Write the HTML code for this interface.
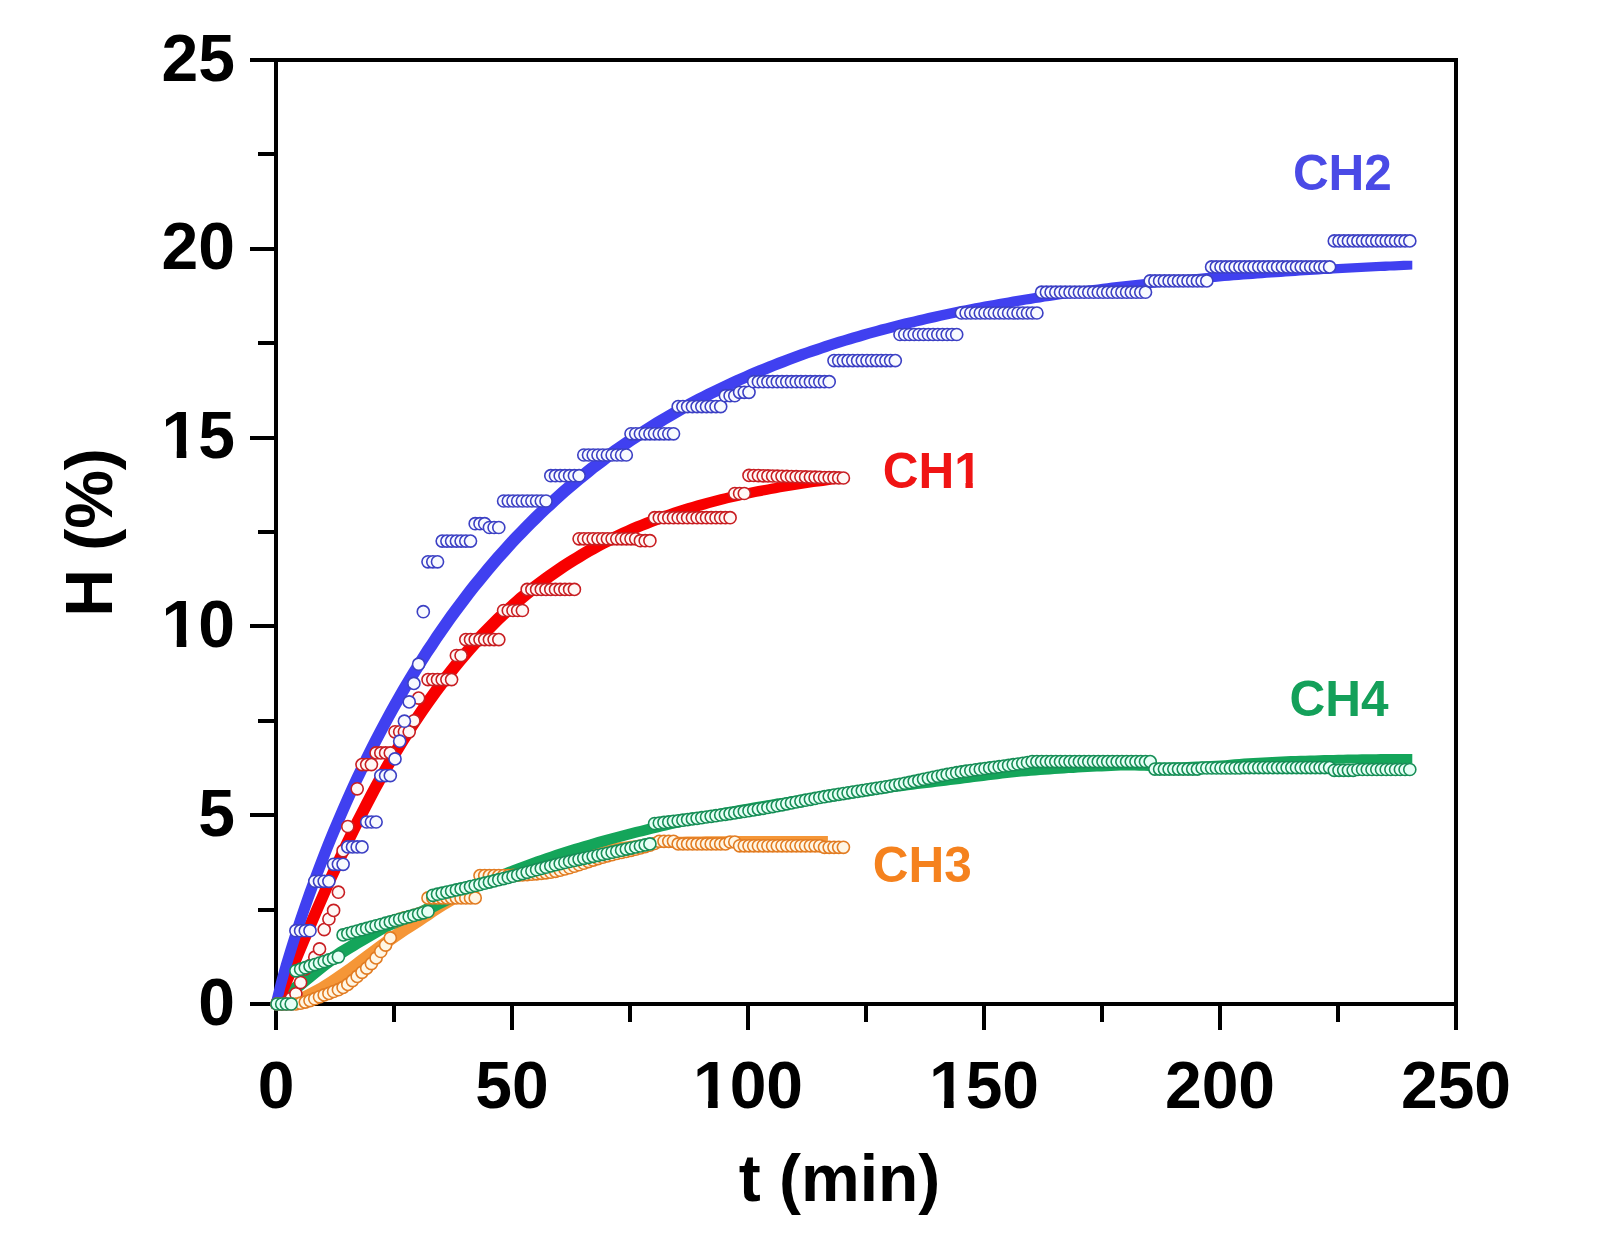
<!DOCTYPE html>
<html lang="en">
<head>
<meta charset="utf-8">
<title>H (%) vs t (min)</title>
<style>
html,body{margin:0;padding:0;background:#fff;}
body{width:1615px;height:1244px;overflow:hidden;}
svg{display:block;}
text{font-family:"Liberation Sans",sans-serif;font-weight:bold;}
.tl text{font-size:66px;fill:#000;}
.sl text{font-size:49.5px;text-anchor:middle;}
circle{fill:#fff;stroke-width:1.6;}
.mb circle{stroke:#3c40c4;}
.mr circle{stroke:#c81e22;}
.mo circle{stroke:#e27c22;fill:#fff6e4;}
.mg circle{stroke:#168e56;fill:#e6fff6;}
.mr circle{fill:#fff8f6;}
.mb circle{fill:#f8faff;}
</style>
</head>
<body>
<svg width="1615" height="1244" viewBox="0 0 1615 1244"><rect width="1615" height="1244" fill="#fff"/><g stroke="#000" stroke-width="4" fill="none" shape-rendering="crispEdges"><path d="M250 60H1458M250 1004H1458M276 58V1030M1456 58V1030"/><path d="M258 909.6H276M250 815.2H276M258 720.8H276M250 626.4H276M258 532.0H276M250 437.6H276M258 343.2H276M250 248.8H276M258 154.4H276M394.0 1004V1022M512.0 1004V1030M630.0 1004V1022M748.0 1004V1030M866.0 1004V1022M984.0 1004V1030M1102.0 1004V1022M1220.0 1004V1030M1338.0 1004V1022"/></g><path fill="#f59637" d="M271.6 1008.4L271.6 999.6L276.3 999.1L281.0 998.5L285.8 997.6L290.5 996.4L295.2 994.9L299.9 992.9L304.6 990.6L309.4 988.1L314.1 985.6L318.8 982.9L323.5 980.0L328.2 976.9L333.0 973.8L337.7 970.6L342.4 967.3L347.1 963.9L351.8 960.4L356.6 956.8L361.3 953.3L366.0 949.8L370.7 946.3L375.4 942.7L380.2 939.2L384.9 935.8L389.6 932.4L394.3 929.1L399.0 926.0L403.8 922.9L408.5 919.9L413.2 916.9L417.9 913.8L422.6 910.6L427.4 907.3L432.1 904.1L436.8 901.1L441.5 898.4L446.2 895.6L451.0 892.9L455.7 890.3L460.4 887.8L465.1 885.4L469.8 883.0L474.6 880.8L479.3 878.8L484.0 876.9L488.7 875.2L493.4 873.6L498.2 872.2L502.9 870.8L507.6 869.3L512.3 867.9L517.0 866.4L521.8 865.0L526.5 863.6L531.2 862.2L535.9 860.8L540.6 859.5L545.4 858.1L550.1 856.7L554.8 855.4L559.5 854.0L564.2 852.7L569.0 851.5L573.7 850.4L578.4 849.3L583.1 848.3L587.8 847.4L592.6 846.5L597.3 845.7L602.0 844.8L606.7 844.1L611.4 843.3L616.2 842.6L620.9 842.0L625.6 841.4L630.3 840.8L635.0 840.2L639.8 839.6L644.5 839.1L649.2 838.5L653.9 838.0L658.6 837.6L663.4 837.3L668.1 837.0L672.8 836.9L677.5 836.8L682.2 836.7L687.0 836.6L691.7 836.5L696.4 836.4L701.1 836.4L705.8 836.3L710.6 836.3L715.3 836.2L720.0 836.2L724.7 836.2L729.4 836.1L734.2 836.1L738.9 836.1L743.6 836.1L748.3 836.1L753.0 836.1L757.8 836.1L762.5 836.1L767.2 836.1L771.9 836.1L776.6 836.1L781.4 836.1L786.1 836.1L790.8 836.1L795.5 836.1L800.2 836.1L805.0 836.1L809.7 836.1L814.4 836.1L819.1 836.1L827.9 836.1L827.9 844.9L823.2 844.9L818.5 844.9L813.8 844.9L809.0 844.9L804.3 844.9L799.6 844.9L794.9 844.9L790.2 844.9L785.4 844.9L780.7 844.9L776.0 844.9L771.3 844.9L766.6 844.9L761.8 844.9L757.1 844.9L752.4 844.9L747.7 844.9L743.0 844.9L738.2 844.9L733.5 845.0L728.8 845.0L724.1 845.0L719.4 845.1L714.6 845.1L709.9 845.2L705.2 845.2L700.5 845.3L695.8 845.4L691.0 845.5L686.3 845.6L681.6 845.7L676.9 845.8L672.2 846.1L667.4 846.4L662.7 846.8L658.0 847.3L653.3 847.9L648.6 848.4L643.8 849.0L639.1 849.6L634.4 850.2L629.7 850.8L625.0 851.4L620.2 852.1L615.5 852.9L610.8 853.6L606.1 854.5L601.4 855.3L596.6 856.2L591.9 857.1L587.2 858.1L582.5 859.2L577.8 860.3L573.0 861.5L568.3 862.8L563.6 864.2L558.9 865.5L554.2 866.9L549.4 868.3L544.7 869.6L540.0 871.0L535.3 872.4L530.6 873.8L525.8 875.2L521.1 876.7L516.4 878.1L511.7 879.6L507.0 881.0L502.2 882.4L497.5 884.0L492.8 885.7L488.1 887.6L483.4 889.6L478.6 891.8L473.9 894.2L469.2 896.6L464.5 899.1L459.8 901.7L455.0 904.4L450.3 907.2L445.6 909.9L440.9 912.9L436.2 916.1L431.4 919.4L426.7 922.6L422.0 925.7L417.3 928.7L412.6 931.7L407.8 934.8L403.1 937.9L398.4 941.2L393.7 944.6L389.0 948.0L384.2 951.5L379.5 955.1L374.8 958.6L370.1 962.1L365.4 965.6L360.6 969.2L355.9 972.7L351.2 976.1L346.5 979.4L341.8 982.6L337.0 985.7L332.3 988.8L327.6 991.7L322.9 994.4L318.2 996.9L313.4 999.4L308.7 1001.7L304.0 1003.7L299.3 1005.2L294.6 1006.4L289.8 1007.3L285.1 1007.9L280.4 1008.4Z"/><path fill="#14a55a" d="M271.6 1008.4L271.6 999.6L276.3 995.8L281.0 991.9L285.8 988.1L290.5 984.3L295.2 980.4L299.9 976.4L304.6 972.6L309.4 968.7L314.1 965.0L318.8 961.3L323.5 957.6L328.2 954.0L333.0 950.7L337.7 947.6L342.4 944.8L347.1 941.9L351.8 939.0L356.6 936.2L361.3 933.4L366.0 930.6L370.7 927.9L375.4 925.2L380.2 922.6L384.9 920.5L389.6 918.6L394.3 916.8L399.0 915.2L403.8 913.7L408.5 911.9L413.2 909.7L417.9 907.3L422.6 904.9L427.4 902.6L432.1 900.2L436.8 897.9L441.5 895.7L446.2 893.4L451.0 891.2L455.7 889.0L460.4 886.9L465.1 884.8L469.8 882.7L474.6 880.7L479.3 878.6L484.0 876.7L488.7 874.7L493.4 872.7L498.2 870.8L502.9 868.9L507.6 867.1L512.3 865.3L517.0 863.5L521.8 861.7L526.5 860.0L531.2 858.2L535.9 856.6L540.6 854.9L545.4 853.3L550.1 851.7L554.8 850.1L559.5 848.6L564.2 847.1L569.0 845.6L573.7 844.1L578.4 842.7L583.1 841.3L587.8 839.9L592.6 838.5L597.3 837.1L602.0 835.8L606.7 834.5L611.4 833.2L616.2 831.9L620.9 830.7L625.6 829.5L630.3 828.3L635.0 827.1L639.8 825.9L644.5 824.7L649.2 823.6L653.9 822.5L658.6 821.4L663.4 820.3L668.1 819.2L672.8 818.2L677.5 817.1L682.2 816.1L687.0 815.1L691.7 814.1L696.4 813.2L701.1 812.2L705.8 811.3L710.6 810.3L715.3 809.4L720.0 808.5L724.7 807.6L729.4 806.7L734.2 805.9L738.9 805.0L743.6 804.2L748.3 803.4L753.0 802.6L757.8 801.7L762.5 801.0L767.2 800.2L771.9 799.4L776.6 798.6L781.4 797.9L786.1 797.2L790.8 796.4L795.5 795.7L800.2 795.0L805.0 794.3L809.7 793.6L814.4 792.9L819.1 792.3L823.8 791.6L828.6 790.9L833.3 790.3L838.0 789.6L842.7 789.0L847.4 788.4L852.2 787.7L856.9 787.1L861.6 786.5L866.3 785.8L871.0 785.2L875.8 784.6L880.5 784.0L885.2 783.3L889.9 782.7L894.6 782.1L899.4 781.5L904.1 780.9L908.8 780.3L913.5 779.7L918.2 779.1L923.0 778.6L927.7 778.0L932.4 777.4L937.1 776.9L941.8 776.3L946.6 775.7L951.3 775.1L956.0 774.5L960.7 773.9L965.4 773.3L970.2 772.7L974.9 772.1L979.6 771.5L984.3 770.9L989.0 770.4L993.8 769.8L998.5 769.3L1003.2 768.8L1007.9 768.3L1012.6 767.8L1017.4 767.4L1022.1 767.0L1026.8 766.6L1031.5 766.2L1036.2 765.9L1041.0 765.6L1045.7 765.2L1050.4 764.9L1055.1 764.6L1059.8 764.3L1064.6 764.1L1069.3 763.8L1074.0 763.5L1078.7 763.3L1083.4 763.0L1088.2 762.8L1092.9 762.6L1097.6 762.4L1102.3 762.1L1107.0 761.9L1111.8 761.7L1116.5 761.6L1121.2 761.6L1125.9 761.7L1130.6 761.9L1135.4 762.0L1140.1 762.2L1144.8 762.4L1149.5 762.5L1154.2 762.5L1159.0 762.4L1163.7 762.4L1168.4 762.4L1173.1 762.3L1177.8 762.3L1182.6 762.2L1187.3 762.0L1192.0 761.8L1196.7 761.6L1201.4 761.4L1206.2 761.2L1210.9 761.0L1215.6 760.8L1220.3 760.5L1225.0 760.2L1229.8 759.7L1234.5 759.3L1239.2 758.9L1243.9 758.6L1248.6 758.3L1253.4 758.0L1258.1 757.7L1262.8 757.5L1267.5 757.2L1272.2 757.0L1277.0 756.7L1281.7 756.5L1286.4 756.3L1291.1 756.1L1295.8 756.0L1300.6 755.8L1305.3 755.7L1310.0 755.5L1314.7 755.4L1319.4 755.3L1324.2 755.1L1328.9 755.0L1333.6 754.9L1338.3 754.8L1343.0 754.7L1347.8 754.6L1352.5 754.5L1357.2 754.4L1361.9 754.3L1366.6 754.3L1371.4 754.2L1376.1 754.2L1380.8 754.1L1385.5 754.1L1390.2 754.1L1395.0 754.1L1399.7 754.1L1403.5 754.1L1412.3 754.1L1412.3 762.9L1408.5 762.9L1403.8 762.9L1399.0 762.9L1394.3 762.9L1389.6 762.9L1384.9 763.0L1380.2 763.0L1375.4 763.1L1370.7 763.1L1366.0 763.2L1361.3 763.3L1356.6 763.4L1351.8 763.5L1347.1 763.6L1342.4 763.7L1337.7 763.8L1333.0 763.9L1328.2 764.1L1323.5 764.2L1318.8 764.3L1314.1 764.5L1309.4 764.6L1304.6 764.8L1299.9 764.9L1295.2 765.1L1290.5 765.3L1285.8 765.5L1281.0 765.8L1276.3 766.0L1271.6 766.3L1266.9 766.5L1262.2 766.8L1257.4 767.1L1252.7 767.4L1248.0 767.7L1243.3 768.1L1238.6 768.5L1233.8 769.0L1229.1 769.3L1224.4 769.6L1219.7 769.8L1215.0 770.0L1210.2 770.2L1205.5 770.4L1200.8 770.6L1196.1 770.8L1191.4 771.0L1186.6 771.1L1181.9 771.1L1177.2 771.2L1172.5 771.2L1167.8 771.2L1163.0 771.3L1158.3 771.3L1153.6 771.2L1148.9 771.0L1144.2 770.8L1139.4 770.7L1134.7 770.5L1130.0 770.4L1125.3 770.4L1120.6 770.5L1115.8 770.7L1111.1 770.9L1106.4 771.2L1101.7 771.4L1097.0 771.6L1092.2 771.8L1087.5 772.1L1082.8 772.3L1078.1 772.6L1073.4 772.9L1068.6 773.1L1063.9 773.4L1059.2 773.7L1054.5 774.0L1049.8 774.4L1045.0 774.7L1040.3 775.0L1035.6 775.4L1030.9 775.8L1026.2 776.2L1021.4 776.6L1016.7 777.1L1012.0 777.6L1007.3 778.1L1002.6 778.6L997.8 779.2L993.1 779.7L988.4 780.3L983.7 780.9L979.0 781.5L974.2 782.1L969.5 782.7L964.8 783.3L960.1 783.9L955.4 784.5L950.6 785.1L945.9 785.7L941.2 786.2L936.5 786.8L931.8 787.4L927.0 787.9L922.3 788.5L917.6 789.1L912.9 789.7L908.2 790.3L903.4 790.9L898.7 791.5L894.0 792.1L889.3 792.8L884.6 793.4L879.8 794.0L875.1 794.6L870.4 795.3L865.7 795.9L861.0 796.5L856.2 797.2L851.5 797.8L846.8 798.4L842.1 799.1L837.4 799.7L832.6 800.4L827.9 801.1L823.2 801.7L818.5 802.4L813.8 803.1L809.0 803.8L804.3 804.5L799.6 805.2L794.9 806.0L790.2 806.7L785.4 807.4L780.7 808.2L776.0 809.0L771.3 809.8L766.6 810.5L761.8 811.4L757.1 812.2L752.4 813.0L747.7 813.8L743.0 814.7L738.2 815.5L733.5 816.4L728.8 817.3L724.1 818.2L719.4 819.1L714.6 820.1L709.9 821.0L705.2 822.0L700.5 822.9L695.8 823.9L691.0 824.9L686.3 825.9L681.6 827.0L676.9 828.0L672.2 829.1L667.4 830.2L662.7 831.3L658.0 832.4L653.3 833.5L648.6 834.7L643.8 835.9L639.1 837.1L634.4 838.3L629.7 839.5L625.0 840.7L620.2 842.0L615.5 843.3L610.8 844.6L606.1 845.9L601.4 847.3L596.6 848.7L591.9 850.1L587.2 851.5L582.5 852.9L577.8 854.4L573.0 855.9L568.3 857.4L563.6 858.9L558.9 860.5L554.2 862.1L549.4 863.7L544.7 865.4L540.0 867.0L535.3 868.8L530.6 870.5L525.8 872.3L521.1 874.1L516.4 875.9L511.7 877.7L507.0 879.6L502.2 881.5L497.5 883.5L492.8 885.5L488.1 887.4L483.4 889.5L478.6 891.5L473.9 893.6L469.2 895.7L464.5 897.8L459.8 900.0L455.0 902.2L450.3 904.5L445.6 906.7L440.9 909.0L436.2 911.4L431.4 913.7L426.7 916.1L422.0 918.5L417.3 920.7L412.6 922.5L407.8 924.0L403.1 925.6L398.4 927.4L393.7 929.3L389.0 931.4L384.2 934.0L379.5 936.7L374.8 939.4L370.1 942.2L365.4 945.0L360.6 947.8L355.9 950.7L351.2 953.6L346.5 956.4L341.8 959.5L337.0 962.8L332.3 966.4L327.6 970.1L322.9 973.8L318.2 977.5L313.4 981.4L308.7 985.2L304.0 989.2L299.3 993.1L294.6 996.9L289.8 1000.7L285.1 1004.6L280.4 1008.4Z"/><path fill="#f80000" d="M271.6 1008.4L271.6 999.6L276.3 990.1L281.0 979.5L285.8 968.4L290.5 957.2L295.2 946.0L299.9 934.8L304.6 923.6L309.4 912.6L314.1 901.7L318.8 890.9L323.5 880.3L328.2 869.8L333.0 859.5L337.7 849.4L342.4 839.4L347.1 829.7L351.8 820.1L356.6 810.8L361.3 801.6L366.0 792.6L370.7 783.8L375.4 775.2L380.2 766.7L384.9 758.5L389.6 750.4L394.3 742.6L399.0 734.9L403.8 727.4L408.5 720.0L413.2 712.9L417.9 705.9L422.6 699.1L427.4 692.4L432.1 685.9L436.8 679.6L441.5 673.4L446.2 667.4L451.0 661.5L455.7 655.8L460.4 650.2L465.1 644.8L469.8 639.5L474.6 634.3L479.3 629.3L484.0 624.4L488.7 619.7L493.4 615.0L498.2 610.5L502.9 606.1L507.6 601.9L512.3 597.7L517.0 593.6L521.8 589.7L526.5 585.9L531.2 582.1L535.9 578.5L540.6 575.0L545.4 571.5L550.1 568.2L554.8 565.0L559.5 561.8L564.2 558.7L569.0 555.8L573.7 552.9L578.4 550.0L583.1 547.3L587.8 544.6L592.6 542.0L597.3 539.5L602.0 537.1L606.7 534.7L611.4 532.4L616.2 530.2L620.9 528.0L625.6 525.9L630.3 523.8L635.0 521.8L639.8 519.9L644.5 518.0L649.2 516.2L653.9 514.4L658.6 512.7L663.4 511.0L668.1 509.4L672.8 507.8L677.5 506.2L682.2 504.8L687.0 503.3L691.7 501.9L696.4 500.6L701.1 499.2L705.8 498.0L710.6 496.7L715.3 495.5L720.0 494.3L724.7 493.2L729.4 492.1L734.2 491.0L738.9 490.0L743.6 489.0L748.3 488.0L753.0 487.1L757.8 486.1L762.5 485.3L767.2 484.4L771.9 483.5L776.6 482.7L781.4 481.9L786.1 481.2L790.8 480.4L795.5 479.7L800.2 479.0L805.0 478.3L809.7 477.7L814.4 477.1L819.1 476.4L823.8 475.8L828.6 475.3L833.3 474.7L837.1 474.3L845.9 474.3L845.9 483.1L842.1 483.5L837.4 484.1L832.6 484.6L827.9 485.2L823.2 485.9L818.5 486.5L813.8 487.1L809.0 487.8L804.3 488.5L799.6 489.2L794.9 490.0L790.2 490.7L785.4 491.5L780.7 492.3L776.0 493.2L771.3 494.1L766.6 494.9L761.8 495.9L757.1 496.8L752.4 497.8L747.7 498.8L743.0 499.8L738.2 500.9L733.5 502.0L728.8 503.1L724.1 504.3L719.4 505.5L714.6 506.8L709.9 508.0L705.2 509.4L700.5 510.7L695.8 512.1L691.0 513.6L686.3 515.0L681.6 516.6L676.9 518.2L672.2 519.8L667.4 521.5L662.7 523.2L658.0 525.0L653.3 526.8L648.6 528.7L643.8 530.6L639.1 532.6L634.4 534.7L629.7 536.8L625.0 539.0L620.2 541.2L615.5 543.5L610.8 545.9L606.1 548.3L601.4 550.8L596.6 553.4L591.9 556.1L587.2 558.8L582.5 561.7L577.8 564.6L573.0 567.5L568.3 570.6L563.6 573.8L558.9 577.0L554.2 580.3L549.4 583.8L544.7 587.3L540.0 590.9L535.3 594.7L530.6 598.5L525.8 602.4L521.1 606.5L516.4 610.7L511.7 614.9L507.0 619.3L502.2 623.8L497.5 628.5L492.8 633.2L488.1 638.1L483.4 643.1L478.6 648.3L473.9 653.6L469.2 659.0L464.5 664.6L459.8 670.3L455.0 676.2L450.3 682.2L445.6 688.4L440.9 694.7L436.2 701.2L431.4 707.9L426.7 714.7L422.0 721.7L417.3 728.8L412.6 736.2L407.8 743.7L403.1 751.4L398.4 759.2L393.7 767.3L389.0 775.5L384.2 784.0L379.5 792.6L374.8 801.4L370.1 810.4L365.4 819.6L360.6 828.9L355.9 838.5L351.2 848.2L346.5 858.2L341.8 868.3L337.0 878.6L332.3 889.1L327.6 899.7L322.9 910.5L318.2 921.4L313.4 932.4L308.7 943.6L304.0 954.8L299.3 966.0L294.6 977.2L289.8 988.3L285.1 998.9L280.4 1008.4Z"/><path fill="#4040f0" d="M271.6 1008.4L271.6 999.6L276.3 980.3L281.0 963.5L285.8 947.7L290.5 932.7L295.2 918.3L299.9 904.4L304.6 891.0L309.4 878.0L314.1 865.4L318.8 853.2L323.5 841.3L328.2 829.7L333.0 818.4L337.7 807.4L342.4 796.7L347.1 786.2L351.8 776.0L356.6 766.1L361.3 756.3L366.0 746.8L370.7 737.5L375.4 728.4L380.2 719.5L384.9 710.8L389.6 702.3L394.3 694.0L399.0 685.8L403.8 677.8L408.5 670.0L413.2 662.4L417.9 654.9L422.6 647.5L427.4 640.4L432.1 633.3L436.8 626.4L441.5 619.7L446.2 613.0L451.0 606.5L455.7 600.2L460.4 593.9L465.1 587.8L469.8 581.8L474.6 575.9L479.3 570.2L484.0 564.5L488.7 559.0L493.4 553.5L498.2 548.2L502.9 543.0L507.6 537.8L512.3 532.8L517.0 527.9L521.8 523.0L526.5 518.2L531.2 513.6L535.9 509.0L540.6 504.5L545.4 500.1L550.1 495.7L554.8 491.5L559.5 487.3L564.2 483.2L569.0 479.2L573.7 475.3L578.4 471.4L583.1 467.6L587.8 463.8L592.6 460.2L597.3 456.6L602.0 453.0L606.7 449.6L611.4 446.1L616.2 442.8L620.9 439.5L625.6 436.3L630.3 433.1L635.0 430.0L639.8 426.9L644.5 423.9L649.2 421.0L653.9 418.1L658.6 415.2L663.4 412.4L668.1 409.7L672.8 407.0L677.5 404.3L682.2 401.7L687.0 399.1L691.7 396.6L696.4 394.1L701.1 391.7L705.8 389.3L710.6 387.0L715.3 384.7L720.0 382.4L724.7 380.2L729.4 378.0L734.2 375.8L738.9 373.7L743.6 371.7L748.3 369.6L753.0 367.6L757.8 365.6L762.5 363.7L767.2 361.8L771.9 359.9L776.6 358.1L781.4 356.3L786.1 354.5L790.8 352.8L795.5 351.0L800.2 349.3L805.0 347.7L809.7 346.1L814.4 344.5L819.1 342.9L823.8 341.3L828.6 339.8L833.3 338.3L838.0 336.8L842.7 335.4L847.4 334.0L852.2 332.6L856.9 331.2L861.6 329.8L866.3 328.5L871.0 327.2L875.8 325.9L880.5 324.6L885.2 323.4L889.9 322.2L894.6 321.0L899.4 319.8L904.1 318.6L908.8 317.5L913.5 316.4L918.2 315.3L923.0 314.2L927.7 313.1L932.4 312.0L937.1 311.0L941.8 310.0L946.6 309.0L951.3 308.0L956.0 307.0L960.7 306.1L965.4 305.2L970.2 304.2L974.9 303.3L979.6 302.4L984.3 301.6L989.0 300.7L993.8 299.9L998.5 299.0L1003.2 298.2L1007.9 297.4L1012.6 296.6L1017.4 295.8L1022.1 295.1L1026.8 294.3L1031.5 293.6L1036.2 292.8L1041.0 292.1L1045.7 291.4L1050.4 290.7L1055.1 290.0L1059.8 289.4L1064.6 288.7L1069.3 288.0L1074.0 287.4L1078.7 286.8L1083.4 286.2L1088.2 285.5L1092.9 284.9L1097.6 284.4L1102.3 283.8L1107.0 283.2L1111.8 282.6L1116.5 282.1L1121.2 281.5L1125.9 281.0L1130.6 280.5L1135.4 280.0L1140.1 279.4L1144.8 278.9L1149.5 278.5L1154.2 278.0L1159.0 277.5L1163.7 277.0L1168.4 276.6L1173.1 276.1L1177.8 275.7L1182.6 275.2L1187.3 274.8L1192.0 274.4L1196.7 273.9L1201.4 273.5L1206.2 273.1L1210.9 272.7L1215.6 272.3L1220.3 271.9L1225.0 271.5L1229.8 271.2L1234.5 270.8L1239.2 270.4L1243.9 270.1L1248.6 269.7L1253.4 269.4L1258.1 269.0L1262.8 268.7L1267.5 268.4L1272.2 268.1L1277.0 267.7L1281.7 267.4L1286.4 267.1L1291.1 266.8L1295.8 266.5L1300.6 266.2L1305.3 265.9L1310.0 265.6L1314.7 265.3L1319.4 265.1L1324.2 264.8L1328.9 264.5L1333.6 264.3L1338.3 264.0L1343.0 263.7L1347.8 263.5L1352.5 263.2L1357.2 263.0L1361.9 262.8L1366.6 262.5L1371.4 262.3L1376.1 262.1L1380.8 261.8L1385.5 261.6L1390.2 261.4L1395.0 261.2L1399.7 261.0L1403.5 260.8L1412.3 260.8L1412.3 269.6L1408.5 269.8L1403.8 270.0L1399.0 270.2L1394.3 270.4L1389.6 270.6L1384.9 270.9L1380.2 271.1L1375.4 271.3L1370.7 271.6L1366.0 271.8L1361.3 272.0L1356.6 272.3L1351.8 272.5L1347.1 272.8L1342.4 273.1L1337.7 273.3L1333.0 273.6L1328.2 273.9L1323.5 274.1L1318.8 274.4L1314.1 274.7L1309.4 275.0L1304.6 275.3L1299.9 275.6L1295.2 275.9L1290.5 276.2L1285.8 276.5L1281.0 276.9L1276.3 277.2L1271.6 277.5L1266.9 277.8L1262.2 278.2L1257.4 278.5L1252.7 278.9L1248.0 279.2L1243.3 279.6L1238.6 280.0L1233.8 280.3L1229.1 280.7L1224.4 281.1L1219.7 281.5L1215.0 281.9L1210.2 282.3L1205.5 282.7L1200.8 283.2L1196.1 283.6L1191.4 284.0L1186.6 284.5L1181.9 284.9L1177.2 285.4L1172.5 285.8L1167.8 286.3L1163.0 286.8L1158.3 287.3L1153.6 287.7L1148.9 288.2L1144.2 288.8L1139.4 289.3L1134.7 289.8L1130.0 290.3L1125.3 290.9L1120.6 291.4L1115.8 292.0L1111.1 292.6L1106.4 293.2L1101.7 293.7L1097.0 294.3L1092.2 295.0L1087.5 295.6L1082.8 296.2L1078.1 296.8L1073.4 297.5L1068.6 298.2L1063.9 298.8L1059.2 299.5L1054.5 300.2L1049.8 300.9L1045.0 301.6L1040.3 302.4L1035.6 303.1L1030.9 303.9L1026.2 304.6L1021.4 305.4L1016.7 306.2L1012.0 307.0L1007.3 307.8L1002.6 308.7L997.8 309.5L993.1 310.4L988.4 311.2L983.7 312.1L979.0 313.0L974.2 314.0L969.5 314.9L964.8 315.8L960.1 316.8L955.4 317.8L950.6 318.8L945.9 319.8L941.2 320.8L936.5 321.9L931.8 323.0L927.0 324.1L922.3 325.2L917.6 326.3L912.9 327.4L908.2 328.6L903.4 329.8L898.7 331.0L894.0 332.2L889.3 333.4L884.6 334.7L879.8 336.0L875.1 337.3L870.4 338.6L865.7 340.0L861.0 341.4L856.2 342.8L851.5 344.2L846.8 345.6L842.1 347.1L837.4 348.6L832.6 350.1L827.9 351.7L823.2 353.3L818.5 354.9L813.8 356.5L809.0 358.1L804.3 359.8L799.6 361.6L794.9 363.3L790.2 365.1L785.4 366.9L780.7 368.7L776.0 370.6L771.3 372.5L766.6 374.4L761.8 376.4L757.1 378.4L752.4 380.5L747.7 382.5L743.0 384.6L738.2 386.8L733.5 389.0L728.8 391.2L724.1 393.5L719.4 395.8L714.6 398.1L709.9 400.5L705.2 402.9L700.5 405.4L695.8 407.9L691.0 410.5L686.3 413.1L681.6 415.8L676.9 418.5L672.2 421.2L667.4 424.0L662.7 426.9L658.0 429.8L653.3 432.7L648.6 435.7L643.8 438.8L639.1 441.9L634.4 445.1L629.7 448.3L625.0 451.6L620.2 454.9L615.5 458.4L610.8 461.8L606.1 465.4L601.4 469.0L596.6 472.6L591.9 476.4L587.2 480.2L582.5 484.1L577.8 488.0L573.0 492.0L568.3 496.1L563.6 500.3L558.9 504.5L554.2 508.9L549.4 513.3L544.7 517.8L540.0 522.4L535.3 527.0L530.6 531.8L525.8 536.7L521.1 541.6L516.4 546.6L511.7 551.8L507.0 557.0L502.2 562.3L497.5 567.8L492.8 573.3L488.1 579.0L483.4 584.7L478.6 590.6L473.9 596.6L469.2 602.7L464.5 609.0L459.8 615.3L455.0 621.8L450.3 628.5L445.6 635.2L440.9 642.1L436.2 649.2L431.4 656.3L426.7 663.7L422.0 671.2L417.3 678.8L412.6 686.6L407.8 694.6L403.1 702.8L398.4 711.1L393.7 719.6L389.0 728.3L384.2 737.2L379.5 746.3L374.8 755.6L370.1 765.1L365.4 774.9L360.6 784.8L355.9 795.0L351.2 805.5L346.5 816.2L341.8 827.2L337.0 838.5L332.3 850.1L327.6 862.0L322.9 874.2L318.2 886.8L313.4 899.8L308.7 913.2L304.0 927.1L299.3 941.5L294.6 956.5L289.8 972.3L285.1 989.1L280.4 1008.4Z"/><g class="mr"><circle cx="277.0" cy="1004.0" r="6.05"/><circle cx="281.7" cy="1004.0" r="6.05"/><circle cx="286.4" cy="1002.1" r="6.05"/><circle cx="291.2" cy="998.3" r="6.05"/><circle cx="295.9" cy="993.8" r="6.05"/><circle cx="300.6" cy="982.5" r="6.05"/><circle cx="305.3" cy="968.9" r="6.05"/><circle cx="310.0" cy="965.5" r="6.05"/><circle cx="314.8" cy="957.2" r="6.05"/><circle cx="319.5" cy="948.9" r="6.05"/><circle cx="324.2" cy="929.6" r="6.05"/><circle cx="328.9" cy="919.0" r="6.05"/><circle cx="333.6" cy="910.4" r="6.05"/><circle cx="338.4" cy="892.2" r="6.05"/><circle cx="343.1" cy="850.7" r="6.05"/><circle cx="347.8" cy="826.5" r="6.05"/><circle cx="357.2" cy="788.8" r="6.05"/><circle cx="362.0" cy="764.6" r="6.05"/><circle cx="366.7" cy="764.6" r="6.05"/><circle cx="371.4" cy="764.6" r="6.05"/><circle cx="376.1" cy="752.9" r="6.05"/><circle cx="380.8" cy="752.9" r="6.05"/><circle cx="385.6" cy="752.9" r="6.05"/><circle cx="390.3" cy="752.9" r="6.05"/><circle cx="395.0" cy="731.8" r="6.05"/><circle cx="399.7" cy="731.8" r="6.05"/><circle cx="404.4" cy="731.8" r="6.05"/><circle cx="409.2" cy="731.8" r="6.05"/><circle cx="413.9" cy="720.8" r="6.05"/><circle cx="418.6" cy="698.1" r="6.05"/><circle cx="428.0" cy="679.6" r="6.05"/><circle cx="432.8" cy="679.6" r="6.05"/><circle cx="437.5" cy="679.6" r="6.05"/><circle cx="442.2" cy="679.6" r="6.05"/><circle cx="446.9" cy="679.6" r="6.05"/><circle cx="451.6" cy="679.6" r="6.05"/><circle cx="456.4" cy="655.5" r="6.05"/><circle cx="461.1" cy="655.5" r="6.05"/><circle cx="465.8" cy="639.6" r="6.05"/><circle cx="470.5" cy="639.6" r="6.05"/><circle cx="475.2" cy="639.6" r="6.05"/><circle cx="480.0" cy="639.6" r="6.05"/><circle cx="484.7" cy="639.6" r="6.05"/><circle cx="489.4" cy="639.6" r="6.05"/><circle cx="494.1" cy="639.6" r="6.05"/><circle cx="498.8" cy="639.6" r="6.05"/><circle cx="503.6" cy="610.5" r="6.05"/><circle cx="508.3" cy="610.5" r="6.05"/><circle cx="513.0" cy="610.5" r="6.05"/><circle cx="517.7" cy="610.5" r="6.05"/><circle cx="522.4" cy="610.5" r="6.05"/><circle cx="527.2" cy="589.4" r="6.05"/><circle cx="531.9" cy="589.4" r="6.05"/><circle cx="536.6" cy="589.4" r="6.05"/><circle cx="541.3" cy="589.4" r="6.05"/><circle cx="546.0" cy="589.4" r="6.05"/><circle cx="550.8" cy="589.4" r="6.05"/><circle cx="555.5" cy="589.4" r="6.05"/><circle cx="560.2" cy="589.4" r="6.05"/><circle cx="564.9" cy="589.4" r="6.05"/><circle cx="569.6" cy="589.4" r="6.05"/><circle cx="574.4" cy="589.4" r="6.05"/><circle cx="579.1" cy="538.8" r="6.05"/><circle cx="583.8" cy="538.8" r="6.05"/><circle cx="588.5" cy="538.8" r="6.05"/><circle cx="593.2" cy="538.8" r="6.05"/><circle cx="598.0" cy="538.8" r="6.05"/><circle cx="602.7" cy="538.8" r="6.05"/><circle cx="607.4" cy="538.8" r="6.05"/><circle cx="612.1" cy="538.8" r="6.05"/><circle cx="616.8" cy="538.8" r="6.05"/><circle cx="621.6" cy="538.8" r="6.05"/><circle cx="626.3" cy="538.8" r="6.05"/><circle cx="631.0" cy="538.8" r="6.05"/><circle cx="635.7" cy="538.8" r="6.05"/><circle cx="640.4" cy="540.7" r="6.05"/><circle cx="645.2" cy="540.7" r="6.05"/><circle cx="649.9" cy="540.7" r="6.05"/><circle cx="654.6" cy="517.7" r="6.05"/><circle cx="659.3" cy="517.7" r="6.05"/><circle cx="664.0" cy="517.7" r="6.05"/><circle cx="668.8" cy="517.7" r="6.05"/><circle cx="673.5" cy="517.7" r="6.05"/><circle cx="678.2" cy="517.7" r="6.05"/><circle cx="682.9" cy="517.7" r="6.05"/><circle cx="687.6" cy="517.7" r="6.05"/><circle cx="692.4" cy="517.7" r="6.05"/><circle cx="697.1" cy="517.7" r="6.05"/><circle cx="701.8" cy="517.7" r="6.05"/><circle cx="706.5" cy="517.7" r="6.05"/><circle cx="711.2" cy="517.7" r="6.05"/><circle cx="716.0" cy="517.7" r="6.05"/><circle cx="720.7" cy="517.7" r="6.05"/><circle cx="725.4" cy="517.7" r="6.05"/><circle cx="730.1" cy="517.7" r="6.05"/><circle cx="734.8" cy="493.5" r="6.05"/><circle cx="739.6" cy="493.5" r="6.05"/><circle cx="744.3" cy="493.5" r="6.05"/><circle cx="749.0" cy="475.4" r="6.05"/><circle cx="753.7" cy="475.5" r="6.05"/><circle cx="758.4" cy="475.6" r="6.05"/><circle cx="763.2" cy="475.8" r="6.05"/><circle cx="767.9" cy="475.9" r="6.05"/><circle cx="772.6" cy="476.0" r="6.05"/><circle cx="777.3" cy="476.2" r="6.05"/><circle cx="782.0" cy="476.3" r="6.05"/><circle cx="786.8" cy="476.4" r="6.05"/><circle cx="791.5" cy="476.5" r="6.05"/><circle cx="796.2" cy="476.7" r="6.05"/><circle cx="800.9" cy="476.8" r="6.05"/><circle cx="805.6" cy="476.9" r="6.05"/><circle cx="810.4" cy="477.1" r="6.05"/><circle cx="815.1" cy="477.2" r="6.05"/><circle cx="819.8" cy="477.3" r="6.05"/><circle cx="824.5" cy="477.5" r="6.05"/><circle cx="829.2" cy="477.6" r="6.05"/><circle cx="834.0" cy="477.7" r="6.05"/><circle cx="838.7" cy="477.9" r="6.05"/><circle cx="843.4" cy="478.0" r="6.05"/></g><g class="mb"><circle cx="277.0" cy="1004.0" r="6.05"/><circle cx="281.7" cy="1004.0" r="6.05"/><circle cx="286.4" cy="1004.0" r="6.05"/><circle cx="291.2" cy="1004.0" r="6.05"/><circle cx="295.9" cy="930.7" r="6.05"/><circle cx="300.6" cy="930.7" r="6.05"/><circle cx="305.3" cy="930.7" r="6.05"/><circle cx="310.0" cy="930.7" r="6.05"/><circle cx="314.8" cy="881.3" r="6.05"/><circle cx="319.5" cy="881.3" r="6.05"/><circle cx="324.2" cy="881.3" r="6.05"/><circle cx="328.9" cy="881.3" r="6.05"/><circle cx="333.6" cy="864.3" r="6.05"/><circle cx="338.4" cy="864.3" r="6.05"/><circle cx="343.1" cy="864.3" r="6.05"/><circle cx="347.8" cy="846.9" r="6.05"/><circle cx="352.5" cy="846.9" r="6.05"/><circle cx="357.2" cy="846.9" r="6.05"/><circle cx="362.0" cy="846.9" r="6.05"/><circle cx="366.7" cy="822.0" r="6.05"/><circle cx="371.4" cy="822.0" r="6.05"/><circle cx="376.1" cy="822.0" r="6.05"/><circle cx="380.8" cy="775.6" r="6.05"/><circle cx="385.6" cy="775.6" r="6.05"/><circle cx="390.3" cy="775.6" r="6.05"/><circle cx="395.0" cy="758.9" r="6.05"/><circle cx="399.7" cy="741.2" r="6.05"/><circle cx="404.4" cy="721.2" r="6.05"/><circle cx="409.2" cy="701.9" r="6.05"/><circle cx="413.9" cy="683.4" r="6.05"/><circle cx="418.6" cy="664.2" r="6.05"/><circle cx="423.3" cy="611.7" r="6.05"/><circle cx="428.0" cy="561.8" r="6.05"/><circle cx="432.8" cy="561.8" r="6.05"/><circle cx="437.5" cy="561.8" r="6.05"/><circle cx="442.2" cy="541.1" r="6.05"/><circle cx="446.9" cy="541.1" r="6.05"/><circle cx="451.6" cy="541.1" r="6.05"/><circle cx="456.4" cy="541.1" r="6.05"/><circle cx="461.1" cy="541.1" r="6.05"/><circle cx="465.8" cy="541.1" r="6.05"/><circle cx="470.5" cy="541.1" r="6.05"/><circle cx="475.2" cy="523.7" r="6.05"/><circle cx="480.0" cy="523.7" r="6.05"/><circle cx="484.7" cy="523.7" r="6.05"/><circle cx="489.4" cy="527.5" r="6.05"/><circle cx="494.1" cy="527.5" r="6.05"/><circle cx="498.8" cy="527.5" r="6.05"/><circle cx="503.6" cy="501.0" r="6.05"/><circle cx="508.3" cy="501.0" r="6.05"/><circle cx="513.0" cy="501.0" r="6.05"/><circle cx="517.7" cy="501.0" r="6.05"/><circle cx="522.4" cy="501.0" r="6.05"/><circle cx="527.2" cy="501.0" r="6.05"/><circle cx="531.9" cy="501.0" r="6.05"/><circle cx="536.6" cy="501.0" r="6.05"/><circle cx="541.3" cy="501.0" r="6.05"/><circle cx="546.0" cy="501.0" r="6.05"/><circle cx="550.8" cy="475.7" r="6.05"/><circle cx="555.5" cy="475.7" r="6.05"/><circle cx="560.2" cy="475.7" r="6.05"/><circle cx="564.9" cy="475.7" r="6.05"/><circle cx="569.6" cy="475.7" r="6.05"/><circle cx="574.4" cy="475.7" r="6.05"/><circle cx="579.1" cy="475.7" r="6.05"/><circle cx="583.8" cy="455.0" r="6.05"/><circle cx="588.5" cy="455.0" r="6.05"/><circle cx="593.2" cy="455.0" r="6.05"/><circle cx="598.0" cy="455.0" r="6.05"/><circle cx="602.7" cy="455.0" r="6.05"/><circle cx="607.4" cy="455.0" r="6.05"/><circle cx="612.1" cy="455.0" r="6.05"/><circle cx="616.8" cy="455.0" r="6.05"/><circle cx="621.6" cy="455.0" r="6.05"/><circle cx="626.3" cy="455.0" r="6.05"/><circle cx="631.0" cy="433.8" r="6.05"/><circle cx="635.7" cy="433.8" r="6.05"/><circle cx="640.4" cy="433.8" r="6.05"/><circle cx="645.2" cy="433.8" r="6.05"/><circle cx="649.9" cy="433.8" r="6.05"/><circle cx="654.6" cy="433.8" r="6.05"/><circle cx="659.3" cy="433.8" r="6.05"/><circle cx="664.0" cy="433.8" r="6.05"/><circle cx="668.8" cy="433.8" r="6.05"/><circle cx="673.5" cy="433.8" r="6.05"/><circle cx="678.2" cy="406.6" r="6.05"/><circle cx="682.9" cy="406.6" r="6.05"/><circle cx="687.6" cy="406.6" r="6.05"/><circle cx="692.4" cy="406.6" r="6.05"/><circle cx="697.1" cy="406.6" r="6.05"/><circle cx="701.8" cy="406.6" r="6.05"/><circle cx="706.5" cy="406.6" r="6.05"/><circle cx="711.2" cy="406.6" r="6.05"/><circle cx="716.0" cy="406.6" r="6.05"/><circle cx="720.7" cy="406.6" r="6.05"/><circle cx="725.4" cy="395.7" r="6.05"/><circle cx="730.1" cy="395.7" r="6.05"/><circle cx="734.8" cy="395.7" r="6.05"/><circle cx="739.6" cy="392.3" r="6.05"/><circle cx="744.3" cy="392.3" r="6.05"/><circle cx="749.0" cy="392.3" r="6.05"/><circle cx="753.7" cy="381.7" r="6.05"/><circle cx="758.4" cy="381.7" r="6.05"/><circle cx="763.2" cy="381.7" r="6.05"/><circle cx="767.9" cy="381.7" r="6.05"/><circle cx="772.6" cy="381.7" r="6.05"/><circle cx="777.3" cy="381.7" r="6.05"/><circle cx="782.0" cy="381.7" r="6.05"/><circle cx="786.8" cy="381.7" r="6.05"/><circle cx="791.5" cy="381.7" r="6.05"/><circle cx="796.2" cy="381.7" r="6.05"/><circle cx="800.9" cy="381.7" r="6.05"/><circle cx="805.6" cy="381.7" r="6.05"/><circle cx="810.4" cy="381.7" r="6.05"/><circle cx="815.1" cy="381.7" r="6.05"/><circle cx="819.8" cy="381.7" r="6.05"/><circle cx="824.5" cy="381.7" r="6.05"/><circle cx="829.2" cy="381.7" r="6.05"/><circle cx="834.0" cy="360.6" r="6.05"/><circle cx="838.7" cy="360.6" r="6.05"/><circle cx="843.4" cy="360.6" r="6.05"/><circle cx="848.1" cy="360.6" r="6.05"/><circle cx="852.8" cy="360.6" r="6.05"/><circle cx="857.6" cy="360.6" r="6.05"/><circle cx="862.3" cy="360.6" r="6.05"/><circle cx="867.0" cy="360.6" r="6.05"/><circle cx="871.7" cy="360.6" r="6.05"/><circle cx="876.4" cy="360.6" r="6.05"/><circle cx="881.2" cy="360.6" r="6.05"/><circle cx="885.9" cy="360.6" r="6.05"/><circle cx="890.6" cy="360.6" r="6.05"/><circle cx="895.3" cy="360.6" r="6.05"/><circle cx="900.0" cy="334.5" r="6.05"/><circle cx="904.8" cy="334.5" r="6.05"/><circle cx="909.5" cy="334.5" r="6.05"/><circle cx="914.2" cy="334.5" r="6.05"/><circle cx="918.9" cy="334.5" r="6.05"/><circle cx="923.6" cy="334.5" r="6.05"/><circle cx="928.4" cy="334.5" r="6.05"/><circle cx="933.1" cy="334.5" r="6.05"/><circle cx="937.8" cy="334.5" r="6.05"/><circle cx="942.5" cy="334.5" r="6.05"/><circle cx="947.2" cy="334.5" r="6.05"/><circle cx="952.0" cy="334.5" r="6.05"/><circle cx="956.7" cy="334.5" r="6.05"/><circle cx="961.4" cy="313.0" r="6.05"/><circle cx="966.1" cy="313.0" r="6.05"/><circle cx="970.8" cy="313.0" r="6.05"/><circle cx="975.6" cy="313.0" r="6.05"/><circle cx="980.3" cy="313.0" r="6.05"/><circle cx="985.0" cy="313.0" r="6.05"/><circle cx="989.7" cy="313.0" r="6.05"/><circle cx="994.4" cy="313.0" r="6.05"/><circle cx="999.2" cy="313.0" r="6.05"/><circle cx="1003.9" cy="313.0" r="6.05"/><circle cx="1008.6" cy="313.0" r="6.05"/><circle cx="1013.3" cy="313.0" r="6.05"/><circle cx="1018.0" cy="313.0" r="6.05"/><circle cx="1022.8" cy="313.0" r="6.05"/><circle cx="1027.5" cy="313.0" r="6.05"/><circle cx="1032.2" cy="313.0" r="6.05"/><circle cx="1036.9" cy="313.0" r="6.05"/><circle cx="1041.6" cy="292.2" r="6.05"/><circle cx="1046.4" cy="292.2" r="6.05"/><circle cx="1051.1" cy="292.2" r="6.05"/><circle cx="1055.8" cy="292.2" r="6.05"/><circle cx="1060.5" cy="292.2" r="6.05"/><circle cx="1065.2" cy="292.2" r="6.05"/><circle cx="1070.0" cy="292.2" r="6.05"/><circle cx="1074.7" cy="292.2" r="6.05"/><circle cx="1079.4" cy="292.2" r="6.05"/><circle cx="1084.1" cy="292.2" r="6.05"/><circle cx="1088.8" cy="292.2" r="6.05"/><circle cx="1093.6" cy="292.2" r="6.05"/><circle cx="1098.3" cy="292.2" r="6.05"/><circle cx="1103.0" cy="292.2" r="6.05"/><circle cx="1107.7" cy="292.2" r="6.05"/><circle cx="1112.4" cy="292.2" r="6.05"/><circle cx="1117.2" cy="292.2" r="6.05"/><circle cx="1121.9" cy="292.2" r="6.05"/><circle cx="1126.6" cy="292.2" r="6.05"/><circle cx="1131.3" cy="292.2" r="6.05"/><circle cx="1136.0" cy="292.2" r="6.05"/><circle cx="1140.8" cy="292.2" r="6.05"/><circle cx="1145.5" cy="292.2" r="6.05"/><circle cx="1150.2" cy="280.9" r="6.05"/><circle cx="1154.9" cy="280.9" r="6.05"/><circle cx="1159.6" cy="280.9" r="6.05"/><circle cx="1164.4" cy="280.9" r="6.05"/><circle cx="1169.1" cy="280.9" r="6.05"/><circle cx="1173.8" cy="280.9" r="6.05"/><circle cx="1178.5" cy="280.9" r="6.05"/><circle cx="1183.2" cy="280.9" r="6.05"/><circle cx="1188.0" cy="280.9" r="6.05"/><circle cx="1192.7" cy="280.9" r="6.05"/><circle cx="1197.4" cy="280.9" r="6.05"/><circle cx="1202.1" cy="280.9" r="6.05"/><circle cx="1206.8" cy="280.9" r="6.05"/><circle cx="1211.6" cy="266.9" r="6.05"/><circle cx="1216.3" cy="266.9" r="6.05"/><circle cx="1221.0" cy="266.9" r="6.05"/><circle cx="1225.7" cy="266.9" r="6.05"/><circle cx="1230.4" cy="266.9" r="6.05"/><circle cx="1235.2" cy="266.9" r="6.05"/><circle cx="1239.9" cy="266.9" r="6.05"/><circle cx="1244.6" cy="266.9" r="6.05"/><circle cx="1249.3" cy="266.9" r="6.05"/><circle cx="1254.0" cy="266.9" r="6.05"/><circle cx="1258.8" cy="266.9" r="6.05"/><circle cx="1263.5" cy="266.9" r="6.05"/><circle cx="1268.2" cy="266.9" r="6.05"/><circle cx="1272.9" cy="266.9" r="6.05"/><circle cx="1277.6" cy="266.9" r="6.05"/><circle cx="1282.4" cy="266.9" r="6.05"/><circle cx="1287.1" cy="266.9" r="6.05"/><circle cx="1291.8" cy="266.9" r="6.05"/><circle cx="1296.5" cy="266.9" r="6.05"/><circle cx="1301.2" cy="266.9" r="6.05"/><circle cx="1306.0" cy="266.9" r="6.05"/><circle cx="1310.7" cy="266.9" r="6.05"/><circle cx="1315.4" cy="266.9" r="6.05"/><circle cx="1320.1" cy="266.9" r="6.05"/><circle cx="1324.8" cy="266.9" r="6.05"/><circle cx="1329.6" cy="266.9" r="6.05"/><circle cx="1334.3" cy="240.9" r="6.05"/><circle cx="1339.0" cy="240.9" r="6.05"/><circle cx="1343.7" cy="240.9" r="6.05"/><circle cx="1348.4" cy="240.9" r="6.05"/><circle cx="1353.2" cy="240.9" r="6.05"/><circle cx="1357.9" cy="240.9" r="6.05"/><circle cx="1362.6" cy="240.9" r="6.05"/><circle cx="1367.3" cy="240.9" r="6.05"/><circle cx="1372.0" cy="240.9" r="6.05"/><circle cx="1376.8" cy="240.9" r="6.05"/><circle cx="1381.5" cy="240.9" r="6.05"/><circle cx="1386.2" cy="240.9" r="6.05"/><circle cx="1390.9" cy="240.9" r="6.05"/><circle cx="1395.6" cy="240.9" r="6.05"/><circle cx="1400.4" cy="240.9" r="6.05"/><circle cx="1405.1" cy="240.9" r="6.05"/><circle cx="1409.8" cy="240.9" r="6.05"/></g><g class="mo"><circle cx="277.0" cy="1004.0" r="6.05"/><circle cx="281.7" cy="1004.0" r="6.05"/><circle cx="286.4" cy="1004.0" r="6.05"/><circle cx="291.2" cy="1004.0" r="6.05"/><circle cx="295.9" cy="1004.0" r="6.05"/><circle cx="300.6" cy="1003.2" r="6.05"/><circle cx="305.3" cy="1002.1" r="6.05"/><circle cx="310.0" cy="1000.6" r="6.05"/><circle cx="314.8" cy="998.7" r="6.05"/><circle cx="319.5" cy="996.8" r="6.05"/><circle cx="324.2" cy="994.9" r="6.05"/><circle cx="328.9" cy="993.4" r="6.05"/><circle cx="333.6" cy="991.5" r="6.05"/><circle cx="338.4" cy="989.7" r="6.05"/><circle cx="343.1" cy="987.4" r="6.05"/><circle cx="347.8" cy="984.4" r="6.05"/><circle cx="352.5" cy="980.6" r="6.05"/><circle cx="357.2" cy="976.4" r="6.05"/><circle cx="362.0" cy="972.3" r="6.05"/><circle cx="366.7" cy="968.1" r="6.05"/><circle cx="371.4" cy="963.6" r="6.05"/><circle cx="376.1" cy="957.9" r="6.05"/><circle cx="380.8" cy="951.5" r="6.05"/><circle cx="385.6" cy="945.1" r="6.05"/><circle cx="390.3" cy="937.9" r="6.05"/><circle cx="395.0" cy="920.9" r="6.05"/><circle cx="399.7" cy="919.4" r="6.05"/><circle cx="404.4" cy="917.9" r="6.05"/><circle cx="409.2" cy="916.8" r="6.05"/><circle cx="413.9" cy="915.3" r="6.05"/><circle cx="418.6" cy="914.1" r="6.05"/><circle cx="423.3" cy="912.6" r="6.05"/><circle cx="428.0" cy="897.9" r="6.05"/><circle cx="432.8" cy="897.9" r="6.05"/><circle cx="437.5" cy="897.9" r="6.05"/><circle cx="442.2" cy="897.9" r="6.05"/><circle cx="446.9" cy="897.9" r="6.05"/><circle cx="451.6" cy="897.9" r="6.05"/><circle cx="456.4" cy="897.9" r="6.05"/><circle cx="461.1" cy="897.9" r="6.05"/><circle cx="465.8" cy="897.9" r="6.05"/><circle cx="470.5" cy="897.9" r="6.05"/><circle cx="475.2" cy="897.9" r="6.05"/><circle cx="480.0" cy="875.6" r="6.05"/><circle cx="484.7" cy="875.6" r="6.05"/><circle cx="489.4" cy="875.6" r="6.05"/><circle cx="494.1" cy="875.6" r="6.05"/><circle cx="498.8" cy="875.6" r="6.05"/><circle cx="503.6" cy="875.6" r="6.05"/><circle cx="508.3" cy="875.6" r="6.05"/><circle cx="513.0" cy="875.4" r="6.05"/><circle cx="517.7" cy="875.2" r="6.05"/><circle cx="522.4" cy="874.9" r="6.05"/><circle cx="527.2" cy="874.6" r="6.05"/><circle cx="531.9" cy="874.2" r="6.05"/><circle cx="536.6" cy="873.8" r="6.05"/><circle cx="541.3" cy="873.3" r="6.05"/><circle cx="546.0" cy="872.8" r="6.05"/><circle cx="550.8" cy="872.2" r="6.05"/><circle cx="555.5" cy="871.3" r="6.05"/><circle cx="560.2" cy="870.2" r="6.05"/><circle cx="564.9" cy="869.0" r="6.05"/><circle cx="569.6" cy="867.7" r="6.05"/><circle cx="574.4" cy="866.2" r="6.05"/><circle cx="579.1" cy="864.7" r="6.05"/><circle cx="583.8" cy="863.2" r="6.05"/><circle cx="588.5" cy="861.6" r="6.05"/><circle cx="593.2" cy="860.1" r="6.05"/><circle cx="598.0" cy="858.6" r="6.05"/><circle cx="602.7" cy="857.2" r="6.05"/><circle cx="607.4" cy="855.9" r="6.05"/><circle cx="612.1" cy="854.7" r="6.05"/><circle cx="616.8" cy="853.5" r="6.05"/><circle cx="621.6" cy="852.5" r="6.05"/><circle cx="626.3" cy="851.4" r="6.05"/><circle cx="631.0" cy="850.3" r="6.05"/><circle cx="635.7" cy="849.2" r="6.05"/><circle cx="640.4" cy="848.0" r="6.05"/><circle cx="645.2" cy="846.6" r="6.05"/><circle cx="649.9" cy="845.2" r="6.05"/><circle cx="654.6" cy="843.5" r="6.05"/><circle cx="659.3" cy="841.3" r="6.05"/><circle cx="664.0" cy="841.3" r="6.05"/><circle cx="668.8" cy="841.3" r="6.05"/><circle cx="673.5" cy="841.3" r="6.05"/><circle cx="678.2" cy="843.9" r="6.05"/><circle cx="682.9" cy="843.9" r="6.05"/><circle cx="687.6" cy="843.9" r="6.05"/><circle cx="692.4" cy="843.9" r="6.05"/><circle cx="697.1" cy="843.9" r="6.05"/><circle cx="701.8" cy="843.9" r="6.05"/><circle cx="706.5" cy="843.9" r="6.05"/><circle cx="711.2" cy="843.9" r="6.05"/><circle cx="716.0" cy="843.9" r="6.05"/><circle cx="720.7" cy="843.9" r="6.05"/><circle cx="725.4" cy="843.9" r="6.05"/><circle cx="730.1" cy="842.0" r="6.05"/><circle cx="734.8" cy="842.0" r="6.05"/><circle cx="739.6" cy="845.8" r="6.05"/><circle cx="744.3" cy="845.8" r="6.05"/><circle cx="749.0" cy="845.8" r="6.05"/><circle cx="753.7" cy="845.8" r="6.05"/><circle cx="758.4" cy="845.8" r="6.05"/><circle cx="763.2" cy="845.8" r="6.05"/><circle cx="767.9" cy="845.8" r="6.05"/><circle cx="772.6" cy="845.8" r="6.05"/><circle cx="777.3" cy="845.8" r="6.05"/><circle cx="782.0" cy="845.8" r="6.05"/><circle cx="786.8" cy="845.8" r="6.05"/><circle cx="791.5" cy="845.8" r="6.05"/><circle cx="796.2" cy="845.8" r="6.05"/><circle cx="800.9" cy="845.8" r="6.05"/><circle cx="805.6" cy="845.8" r="6.05"/><circle cx="810.4" cy="845.8" r="6.05"/><circle cx="815.1" cy="845.8" r="6.05"/><circle cx="819.8" cy="845.8" r="6.05"/><circle cx="824.5" cy="847.3" r="6.05"/><circle cx="829.2" cy="847.3" r="6.05"/><circle cx="834.0" cy="847.3" r="6.05"/><circle cx="838.7" cy="847.3" r="6.05"/><circle cx="843.4" cy="847.3" r="6.05"/></g><g class="mg"><circle cx="277.0" cy="1004.0" r="6.05"/><circle cx="281.7" cy="1004.0" r="6.05"/><circle cx="286.4" cy="1004.0" r="6.05"/><circle cx="291.2" cy="1004.0" r="6.05"/><circle cx="295.9" cy="970.8" r="6.05"/><circle cx="300.6" cy="969.2" r="6.05"/><circle cx="305.3" cy="967.7" r="6.05"/><circle cx="310.0" cy="966.1" r="6.05"/><circle cx="314.8" cy="964.6" r="6.05"/><circle cx="319.5" cy="963.0" r="6.05"/><circle cx="324.2" cy="961.5" r="6.05"/><circle cx="328.9" cy="959.9" r="6.05"/><circle cx="333.6" cy="958.4" r="6.05"/><circle cx="338.4" cy="956.8" r="6.05"/><circle cx="343.1" cy="934.9" r="6.05"/><circle cx="347.8" cy="933.6" r="6.05"/><circle cx="352.5" cy="932.3" r="6.05"/><circle cx="357.2" cy="931.0" r="6.05"/><circle cx="362.0" cy="929.7" r="6.05"/><circle cx="366.7" cy="928.4" r="6.05"/><circle cx="371.4" cy="927.1" r="6.05"/><circle cx="376.1" cy="925.8" r="6.05"/><circle cx="380.8" cy="924.5" r="6.05"/><circle cx="385.6" cy="923.2" r="6.05"/><circle cx="390.3" cy="921.9" r="6.05"/><circle cx="395.0" cy="920.6" r="6.05"/><circle cx="399.7" cy="919.3" r="6.05"/><circle cx="404.4" cy="918.0" r="6.05"/><circle cx="409.2" cy="916.7" r="6.05"/><circle cx="413.9" cy="915.4" r="6.05"/><circle cx="418.6" cy="914.1" r="6.05"/><circle cx="423.3" cy="912.8" r="6.05"/><circle cx="428.0" cy="911.5" r="6.05"/><circle cx="432.8" cy="895.3" r="6.05"/><circle cx="437.5" cy="894.2" r="6.05"/><circle cx="442.2" cy="893.2" r="6.05"/><circle cx="446.9" cy="892.1" r="6.05"/><circle cx="451.6" cy="891.0" r="6.05"/><circle cx="456.4" cy="889.9" r="6.05"/><circle cx="461.1" cy="888.9" r="6.05"/><circle cx="465.8" cy="887.8" r="6.05"/><circle cx="470.5" cy="886.6" r="6.05"/><circle cx="475.2" cy="885.5" r="6.05"/><circle cx="480.0" cy="884.4" r="6.05"/><circle cx="484.7" cy="883.2" r="6.05"/><circle cx="489.4" cy="882.1" r="6.05"/><circle cx="494.1" cy="880.9" r="6.05"/><circle cx="498.8" cy="879.7" r="6.05"/><circle cx="503.6" cy="878.6" r="6.05"/><circle cx="508.3" cy="877.4" r="6.05"/><circle cx="513.0" cy="876.2" r="6.05"/><circle cx="517.7" cy="874.9" r="6.05"/><circle cx="522.4" cy="873.6" r="6.05"/><circle cx="527.2" cy="872.3" r="6.05"/><circle cx="531.9" cy="871.0" r="6.05"/><circle cx="536.6" cy="869.7" r="6.05"/><circle cx="541.3" cy="868.4" r="6.05"/><circle cx="546.0" cy="867.2" r="6.05"/><circle cx="550.8" cy="865.9" r="6.05"/><circle cx="555.5" cy="864.7" r="6.05"/><circle cx="560.2" cy="863.6" r="6.05"/><circle cx="564.9" cy="862.5" r="6.05"/><circle cx="569.6" cy="861.4" r="6.05"/><circle cx="574.4" cy="860.4" r="6.05"/><circle cx="579.1" cy="859.3" r="6.05"/><circle cx="583.8" cy="858.3" r="6.05"/><circle cx="588.5" cy="857.3" r="6.05"/><circle cx="593.2" cy="856.3" r="6.05"/><circle cx="598.0" cy="855.3" r="6.05"/><circle cx="602.7" cy="854.3" r="6.05"/><circle cx="607.4" cy="853.3" r="6.05"/><circle cx="612.1" cy="852.2" r="6.05"/><circle cx="616.8" cy="851.2" r="6.05"/><circle cx="621.6" cy="850.2" r="6.05"/><circle cx="626.3" cy="849.1" r="6.05"/><circle cx="631.0" cy="848.1" r="6.05"/><circle cx="635.7" cy="847.0" r="6.05"/><circle cx="640.4" cy="846.0" r="6.05"/><circle cx="645.2" cy="844.9" r="6.05"/><circle cx="649.9" cy="843.9" r="6.05"/><circle cx="654.6" cy="823.5" r="6.05"/><circle cx="659.3" cy="823.0" r="6.05"/><circle cx="664.0" cy="822.4" r="6.05"/><circle cx="668.8" cy="821.9" r="6.05"/><circle cx="673.5" cy="821.3" r="6.05"/><circle cx="678.2" cy="820.8" r="6.05"/><circle cx="682.9" cy="820.2" r="6.05"/><circle cx="687.6" cy="819.6" r="6.05"/><circle cx="692.4" cy="818.9" r="6.05"/><circle cx="697.1" cy="818.3" r="6.05"/><circle cx="701.8" cy="817.7" r="6.05"/><circle cx="706.5" cy="817.0" r="6.05"/><circle cx="711.2" cy="816.3" r="6.05"/><circle cx="716.0" cy="815.7" r="6.05"/><circle cx="720.7" cy="815.0" r="6.05"/><circle cx="725.4" cy="814.3" r="6.05"/><circle cx="730.1" cy="813.6" r="6.05"/><circle cx="734.8" cy="812.9" r="6.05"/><circle cx="739.6" cy="812.1" r="6.05"/><circle cx="744.3" cy="811.4" r="6.05"/><circle cx="749.0" cy="810.7" r="6.05"/><circle cx="753.7" cy="809.9" r="6.05"/><circle cx="758.4" cy="809.1" r="6.05"/><circle cx="763.2" cy="808.3" r="6.05"/><circle cx="767.9" cy="807.4" r="6.05"/><circle cx="772.6" cy="806.6" r="6.05"/><circle cx="777.3" cy="805.7" r="6.05"/><circle cx="782.0" cy="804.8" r="6.05"/><circle cx="786.8" cy="803.8" r="6.05"/><circle cx="791.5" cy="802.9" r="6.05"/><circle cx="796.2" cy="802.0" r="6.05"/><circle cx="800.9" cy="801.1" r="6.05"/><circle cx="805.6" cy="800.2" r="6.05"/><circle cx="810.4" cy="799.3" r="6.05"/><circle cx="815.1" cy="798.4" r="6.05"/><circle cx="819.8" cy="797.5" r="6.05"/><circle cx="824.5" cy="796.7" r="6.05"/><circle cx="829.2" cy="795.9" r="6.05"/><circle cx="834.0" cy="795.1" r="6.05"/><circle cx="838.7" cy="794.3" r="6.05"/><circle cx="843.4" cy="793.6" r="6.05"/><circle cx="848.1" cy="792.8" r="6.05"/><circle cx="852.8" cy="792.1" r="6.05"/><circle cx="857.6" cy="791.3" r="6.05"/><circle cx="862.3" cy="790.6" r="6.05"/><circle cx="867.0" cy="789.8" r="6.05"/><circle cx="871.7" cy="789.1" r="6.05"/><circle cx="876.4" cy="788.3" r="6.05"/><circle cx="881.2" cy="787.6" r="6.05"/><circle cx="885.9" cy="786.8" r="6.05"/><circle cx="890.6" cy="786.0" r="6.05"/><circle cx="895.3" cy="785.1" r="6.05"/><circle cx="900.0" cy="784.3" r="6.05"/><circle cx="904.8" cy="783.3" r="6.05"/><circle cx="909.5" cy="782.4" r="6.05"/><circle cx="914.2" cy="781.4" r="6.05"/><circle cx="918.9" cy="780.4" r="6.05"/><circle cx="923.6" cy="779.3" r="6.05"/><circle cx="928.4" cy="778.3" r="6.05"/><circle cx="933.1" cy="777.3" r="6.05"/><circle cx="937.8" cy="776.3" r="6.05"/><circle cx="942.5" cy="775.3" r="6.05"/><circle cx="947.2" cy="774.4" r="6.05"/><circle cx="952.0" cy="773.5" r="6.05"/><circle cx="956.7" cy="772.7" r="6.05"/><circle cx="961.4" cy="771.9" r="6.05"/><circle cx="966.1" cy="771.2" r="6.05"/><circle cx="970.8" cy="770.5" r="6.05"/><circle cx="975.6" cy="769.8" r="6.05"/><circle cx="980.3" cy="769.2" r="6.05"/><circle cx="985.0" cy="768.5" r="6.05"/><circle cx="989.7" cy="767.9" r="6.05"/><circle cx="994.4" cy="767.3" r="6.05"/><circle cx="999.2" cy="766.7" r="6.05"/><circle cx="1003.9" cy="766.0" r="6.05"/><circle cx="1008.6" cy="765.4" r="6.05"/><circle cx="1013.3" cy="764.7" r="6.05"/><circle cx="1018.0" cy="764.0" r="6.05"/><circle cx="1022.8" cy="763.3" r="6.05"/><circle cx="1027.5" cy="762.5" r="6.05"/><circle cx="1032.2" cy="761.6" r="6.05"/><circle cx="1036.9" cy="761.6" r="6.05"/><circle cx="1041.6" cy="761.6" r="6.05"/><circle cx="1046.4" cy="761.6" r="6.05"/><circle cx="1051.1" cy="761.6" r="6.05"/><circle cx="1055.8" cy="761.6" r="6.05"/><circle cx="1060.5" cy="761.6" r="6.05"/><circle cx="1065.2" cy="761.6" r="6.05"/><circle cx="1070.0" cy="761.6" r="6.05"/><circle cx="1074.7" cy="761.6" r="6.05"/><circle cx="1079.4" cy="761.6" r="6.05"/><circle cx="1084.1" cy="761.6" r="6.05"/><circle cx="1088.8" cy="761.6" r="6.05"/><circle cx="1093.6" cy="761.6" r="6.05"/><circle cx="1098.3" cy="761.6" r="6.05"/><circle cx="1103.0" cy="761.6" r="6.05"/><circle cx="1107.7" cy="761.6" r="6.05"/><circle cx="1112.4" cy="761.6" r="6.05"/><circle cx="1117.2" cy="761.6" r="6.05"/><circle cx="1121.9" cy="761.6" r="6.05"/><circle cx="1126.6" cy="761.6" r="6.05"/><circle cx="1131.3" cy="761.6" r="6.05"/><circle cx="1136.0" cy="761.6" r="6.05"/><circle cx="1140.8" cy="761.6" r="6.05"/><circle cx="1145.5" cy="761.6" r="6.05"/><circle cx="1150.2" cy="761.6" r="6.05"/><circle cx="1154.9" cy="769.1" r="6.05"/><circle cx="1159.6" cy="769.1" r="6.05"/><circle cx="1164.4" cy="769.1" r="6.05"/><circle cx="1169.1" cy="769.1" r="6.05"/><circle cx="1173.8" cy="769.1" r="6.05"/><circle cx="1178.5" cy="769.1" r="6.05"/><circle cx="1183.2" cy="769.1" r="6.05"/><circle cx="1188.0" cy="769.1" r="6.05"/><circle cx="1192.7" cy="769.1" r="6.05"/><circle cx="1197.4" cy="769.1" r="6.05"/><circle cx="1202.1" cy="768.0" r="6.05"/><circle cx="1206.8" cy="768.0" r="6.05"/><circle cx="1211.6" cy="768.0" r="6.05"/><circle cx="1216.3" cy="768.0" r="6.05"/><circle cx="1221.0" cy="768.0" r="6.05"/><circle cx="1225.7" cy="768.0" r="6.05"/><circle cx="1230.4" cy="768.0" r="6.05"/><circle cx="1235.2" cy="768.0" r="6.05"/><circle cx="1239.9" cy="768.0" r="6.05"/><circle cx="1244.6" cy="767.6" r="6.05"/><circle cx="1249.3" cy="767.6" r="6.05"/><circle cx="1254.0" cy="767.6" r="6.05"/><circle cx="1258.8" cy="767.6" r="6.05"/><circle cx="1263.5" cy="767.6" r="6.05"/><circle cx="1268.2" cy="767.6" r="6.05"/><circle cx="1272.9" cy="767.6" r="6.05"/><circle cx="1277.6" cy="767.6" r="6.05"/><circle cx="1282.4" cy="767.6" r="6.05"/><circle cx="1287.1" cy="767.6" r="6.05"/><circle cx="1291.8" cy="767.6" r="6.05"/><circle cx="1296.5" cy="767.6" r="6.05"/><circle cx="1301.2" cy="767.6" r="6.05"/><circle cx="1306.0" cy="767.6" r="6.05"/><circle cx="1310.7" cy="767.6" r="6.05"/><circle cx="1315.4" cy="767.6" r="6.05"/><circle cx="1320.1" cy="767.6" r="6.05"/><circle cx="1324.8" cy="767.6" r="6.05"/><circle cx="1329.6" cy="767.6" r="6.05"/><circle cx="1334.3" cy="770.3" r="6.05"/><circle cx="1339.0" cy="770.3" r="6.05"/><circle cx="1343.7" cy="770.3" r="6.05"/><circle cx="1348.4" cy="770.3" r="6.05"/><circle cx="1353.2" cy="770.3" r="6.05"/><circle cx="1357.9" cy="769.5" r="6.05"/><circle cx="1362.6" cy="769.5" r="6.05"/><circle cx="1367.3" cy="769.5" r="6.05"/><circle cx="1372.0" cy="769.5" r="6.05"/><circle cx="1376.8" cy="769.5" r="6.05"/><circle cx="1381.5" cy="769.5" r="6.05"/><circle cx="1386.2" cy="769.5" r="6.05"/><circle cx="1390.9" cy="769.5" r="6.05"/><circle cx="1395.6" cy="769.5" r="6.05"/><circle cx="1400.4" cy="769.5" r="6.05"/><circle cx="1405.1" cy="769.5" r="6.05"/><circle cx="1409.8" cy="769.5" r="6.05"/></g><g class="tl"><text x="235" y="1024.6" text-anchor="end">0</text><text x="235" y="835.8" text-anchor="end">5</text><text x="235" y="647.0" text-anchor="end">10</text><text x="235" y="458.2" text-anchor="end">15</text><text x="235" y="269.4" text-anchor="end">20</text><text x="235" y="80.6" text-anchor="end">25</text><text x="276.0" y="1107.5" text-anchor="middle">0</text><text x="512.0" y="1107.5" text-anchor="middle">50</text><text x="748.0" y="1107.5" text-anchor="middle">100</text><text x="984.0" y="1107.5" text-anchor="middle">150</text><text x="1220.0" y="1107.5" text-anchor="middle">200</text><text x="1456.0" y="1107.5" text-anchor="middle">250</text><text x="839.5" y="1200.5" text-anchor="middle">t (min)</text><text transform="translate(112.4 532.5) rotate(-90)" text-anchor="middle">H (%)</text></g><g class="sl"><text x="1342.4" y="190.2" fill="#4a4ae6">CH2</text><text x="932.2" y="487.8" fill="#f01414">CH1</text><text x="1339.1" y="715.6" fill="#14a05a">CH4</text><text x="922.3" y="882" fill="#f5821e">CH3</text></g><g fill="#fff"><rect x="164.95" y="639.66" width="11.80" height="7.94"/><rect x="186.30" y="639.66" width="11.21" height="7.94"/><rect x="164.95" y="450.86" width="11.80" height="7.94"/><rect x="186.30" y="450.86" width="11.21" height="7.94"/><rect x="696.30" y="1100.16" width="11.80" height="7.94"/><rect x="717.65" y="1100.16" width="11.21" height="7.94"/><rect x="932.30" y="1100.16" width="11.80" height="7.94"/><rect x="953.65" y="1100.16" width="11.21" height="7.94"/><rect x="956.50" y="482.15" width="8.99" height="6.25"/><rect x="972.78" y="482.15" width="8.61" height="6.25"/></g></svg>
</body>
</html>
